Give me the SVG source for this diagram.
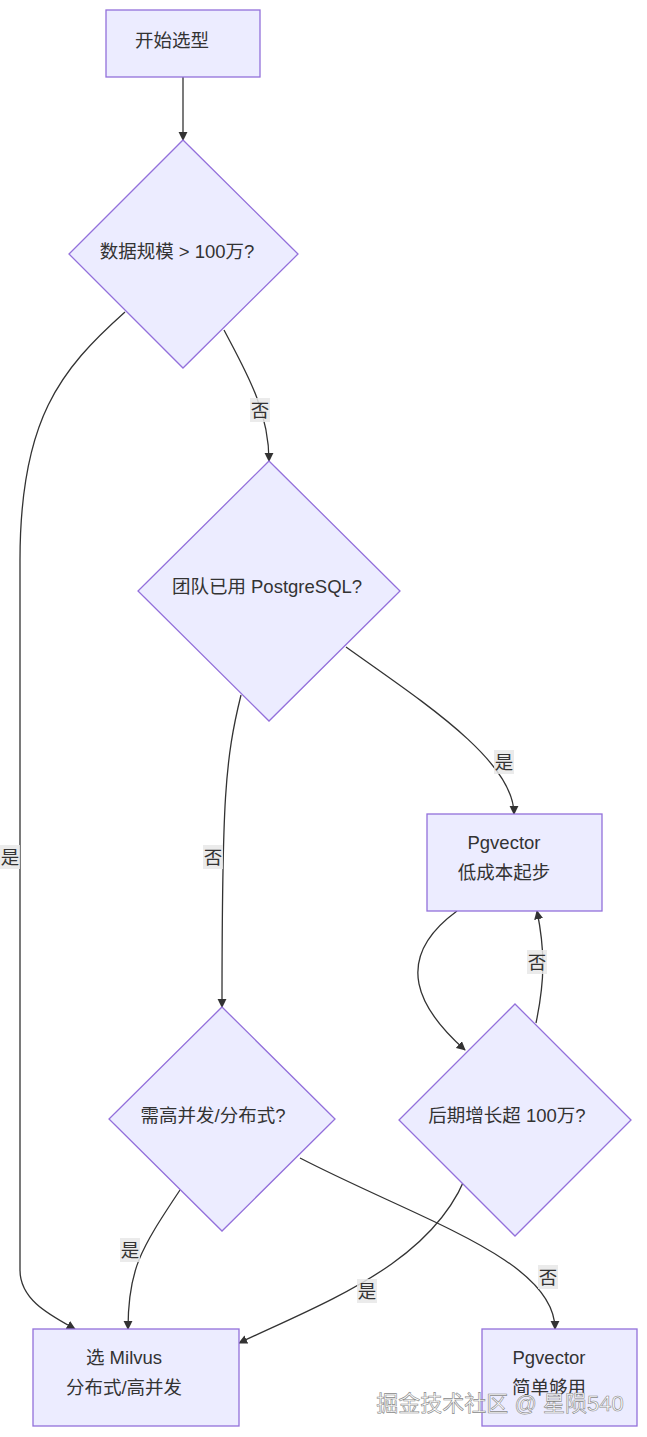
<svg xmlns="http://www.w3.org/2000/svg" width="647" height="1437" viewBox="0 0 647 1437">
<style>
.n{fill:#ECECFF;stroke:#9370DB;stroke-width:1.3}
.t{font-family:"Liberation Sans","Noto Sans CJK SC",sans-serif;font-size:18.5px;fill:#333;text-anchor:middle;dominant-baseline:central}
.e{fill:none;stroke:#333;stroke-width:1.3;marker-end:url(#a)}
.lb{fill:#E8E8E8;opacity:0.85}
</style>
<defs><marker id="a" viewBox="0 0 10 10" refX="9" refY="5" markerWidth="7" markerHeight="7" orient="auto"><path d="M0,0L10,5L0,10z" fill="#333"/></marker></defs>
<rect width="647" height="1437" fill="#fff"/>
<g id="edges">
<path class="e" d="M183,77V140"/>
<path class="e" d="M125,312C60,370 20,420 20,560V1270C20,1300 50,1315 75,1329"/>
<path class="e" d="M224,330C245,370 269,410 269,461"/>
<path class="e" d="M346,647C420,700 514,760 514,814"/>
<path class="e" d="M241,695C225,760 222,800 222,1007"/>
<path class="e" d="M457,911C390,960 420,1010 465,1050"/>
<path class="e" d="M536,1023C545,980 545,950 537,911"/>
<path class="e" d="M180,1190C140,1250 128,1270 128,1329"/>
<path class="e" d="M300,1158C420,1220 555,1260 555,1329"/>
<path class="e" d="M470,1165C440,1260 330,1300 239,1343"/>
<rect class="lb" x="0" y="845" width="20" height="24"/><text class="t" x="10" y="857">是</text>
<rect class="lb" x="250" y="398" width="20" height="24"/><text class="t" x="260" y="410">否</text>
<rect class="lb" x="494" y="750" width="20" height="24"/><text class="t" x="504" y="762">是</text>
<rect class="lb" x="203" y="845" width="20" height="24"/><text class="t" x="213" y="857">否</text>
<rect class="lb" x="527" y="950" width="20" height="24"/><text class="t" x="537" y="962">否</text>
<rect class="lb" x="120" y="1238" width="20" height="24"/><text class="t" x="130" y="1250">是</text>
<rect class="lb" x="538" y="1265" width="20" height="24"/><text class="t" x="548" y="1277">否</text>
<rect class="lb" x="357" y="1279" width="20" height="24"/><text class="t" x="367" y="1291">是</text>
</g>
<g id="start"><rect class="n" x="106" y="10" width="154" height="67"/><text class="t" x="172" y="40">开始选型</text></g>
<g id="d1"><polygon class="n" points="183,140 298,254 183,368 69,254"/><text class="t" x="177" y="251">数据规模 &gt; 100万?</text></g>
<g id="d2"><polygon class="n" points="269,461 400,591 269,721 138,591"/><text class="t" x="267" y="586">团队已用 PostgreSQL?</text></g>
<g id="pg1"><rect class="n" x="427" y="814" width="175" height="97"/><text class="t" x="504" y="842">Pgvector</text><text class="t" x="504" y="872">低成本起步</text></g>
<g id="d3"><polygon class="n" points="222,1007 335,1119 222,1231 109,1119"/><text class="t" x="213" y="1115">需高并发/分布式?</text></g>
<g id="d4"><polygon class="n" points="515,1004 631,1120 515,1236 399,1120"/><text class="t" x="507" y="1115">后期增长超 100万?</text></g>
<g id="milvus"><rect class="n" x="33" y="1329" width="206" height="97"/><text class="t" x="124" y="1357">选 Milvus</text><text class="t" x="124" y="1387">分布式/高并发</text></g>
<g id="pg2"><rect class="n" x="482" y="1329" width="155" height="97"/><text class="t" x="549" y="1357">Pgvector</text><text class="t" x="549" y="1387">简单够用</text></g>
<text x="500" y="1403" style="font-family:'Liberation Sans','Noto Sans CJK SC',sans-serif;font-size:22px;fill:#fff;stroke:#888;stroke-width:0.6;text-anchor:middle;dominant-baseline:central">掘金技术社区 @ 星陨540</text>
</svg>
